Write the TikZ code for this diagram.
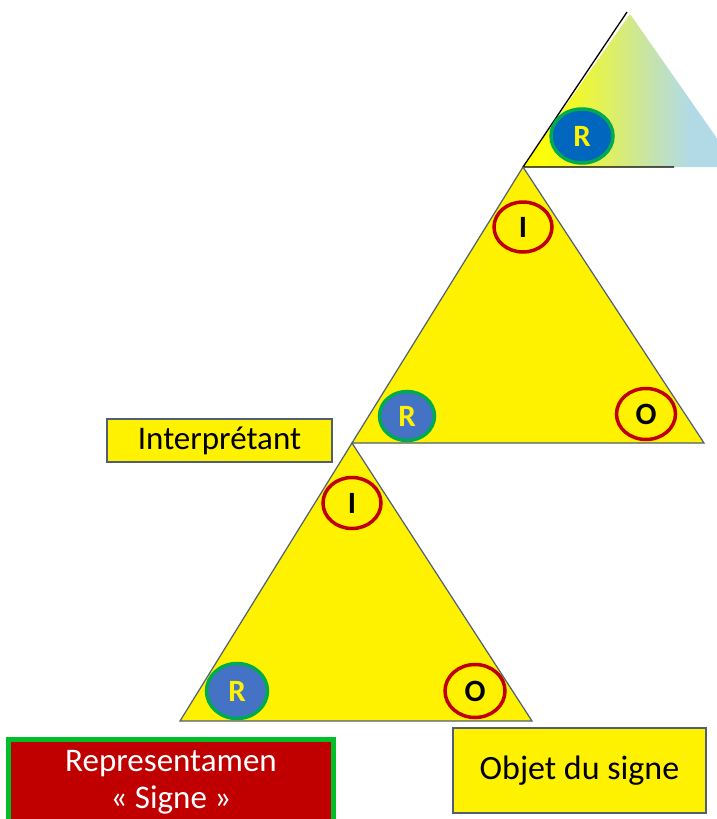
\documentclass[tikz,border=0pt]{standalone}
\usepackage{fontspec}
\setmainfont{Carlito}
\usetikzlibrary{shapes.geometric}
\definecolor{lblue}{RGB}{178,218,230}
\pgfdeclarehorizontalshading{topgrad}{100bp}{color(0bp)=(yellow); color(27bp)=(yellow); color(36bp)=(yellow!85!lblue); color(46bp)=(yellow!55!lblue); color(56bp)=(yellow!22!lblue); color(64bp)=(lblue); color(100bp)=(lblue)}
\begin{document}
\begin{tikzpicture}[x=1pt,y=-1pt,
  tri/.style={fill=yellow, draw=triline, line width=1.2pt, line join=miter},
  rnode/.style={ellipse, draw=rgreen, line width=3.5pt, fill=rblue, text=yellow, font=\fontsize{31}{33}\selectfont\bfseries, inner sep=0pt},
  onode/.style={ellipse, draw=ored, line width=3.5pt, fill=yellow, text=black, font=\fontsize{31}{33}\selectfont\bfseries, inner sep=0pt},
  ybox/.style={draw=boxline, line width=1.2pt, fill=yellow, text=black, inner sep=0pt},
  wtext/.style={text=white, font=\fontsize{33}{35}\selectfont, inner sep=0pt, anchor=base}
]
\definecolor{triline}{RGB}{80,95,115}
\definecolor{rgreen}{RGB}{0,170,80}
\definecolor{rblue}{RGB}{68,114,196}
\definecolor{rblue2}{RGB}{0,102,190}
\definecolor{ored}{RGB}{192,0,0}
\definecolor{boxline}{RGB}{80,95,115}
\definecolor{darkred}{RGB}{192,0,0}
\definecolor{sgreen}{RGB}{0,190,40}
\useasboundingbox (0,0) rectangle (717,819);
\fill[white] (0,0) rectangle (717,819);
% top triangle (gradient)
\begin{scope}
\clip (0,0) rectangle (717,819);
\shade[shading=topgrad]
  (523,167) -- (630,14) -- (737,167) -- cycle;
\end{scope}
\coordinate (tA) at (627,12);
\coordinate (tL) at (523,167);
\coordinate (tR) at (674,167);
\draw[black, line width=1.3pt] (tA) -- (tL) -- (tR);
\node[rnode, fill=rblue2, minimum width=62pt, minimum height=54pt] (R0) at (582,136) {R};
% middle triangle
\draw[tri] (523,167) -- (352,443) -- (704,443) -- cycle;
\node[onode, minimum width=58pt, minimum height=50pt] (I1) at (523,227) {I};
\node[rnode, minimum width=55pt, minimum height=49pt] (R1) at (407,416) {R};
\node[onode, minimum width=59pt, minimum height=51pt] (O1) at (646,414) {O};
% bottom triangle
\draw[tri] (352,443) -- (180,721) -- (532,721) -- cycle;
\node[onode, minimum width=58pt, minimum height=51pt] (I2) at (352,503) {I};
\node[rnode, minimum width=61pt, minimum height=55pt] (R2) at (237,691) {R};
\node[onode, minimum width=60pt, minimum height=53pt] (O2) at (475,691) {O};
% boxes
\node[ybox, minimum width=225pt, minimum height=43pt, font=\fontsize{33}{35}\selectfont] (interp) at (219.5,440.5) {Interprétant};
\node[ybox, minimum width=253pt, minimum height=85pt, font=\fontsize{34}{36}\selectfont] (objet) at (579.5,770.5) {Objet du signe};
\node[draw=sgreen, line width=5pt, fill=darkred, minimum width=325pt, minimum height=90pt, inner sep=0pt] (repr) at (171,784) {};
\node[wtext] (reprA) at (171,771) {Representamen};
\node[wtext] (reprB) at (171,808) {« Signe »};
\end{tikzpicture}
\end{document}
